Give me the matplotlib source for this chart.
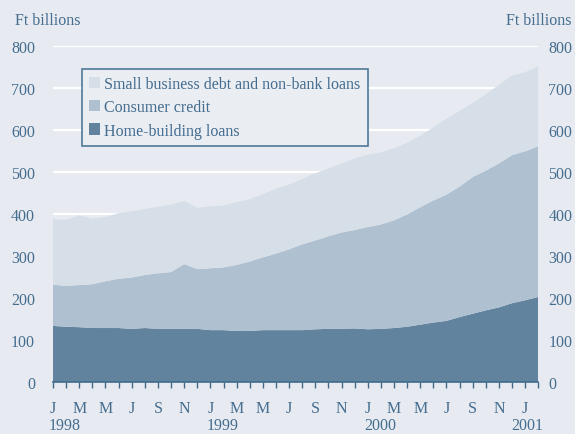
import numpy as np
import matplotlib.pyplot as plt
import matplotlib.transforms as mtransforms
from matplotlib.patches import Patch

plt.rcParams['font.family'] = ['Liberation Serif', 'DejaVu Serif']

# monthly, Jan 1998 .. Feb 2001 (Ft billions)
home_building = [134, 132, 131, 129, 129, 129, 127, 129, 127, 127, 127, 127,
                 124, 124, 122, 122, 124, 124, 124, 124, 126, 127, 127, 128,
                 126, 127, 129, 132, 137, 142, 146, 155, 163, 171, 178, 188,
                 195, 203]
consumer_credit = [98, 97, 100, 104, 111, 117, 122, 126, 132, 135, 154, 142,
                   147, 149, 157, 165, 173, 182, 192, 204, 211, 220, 229, 234,
                   243, 248, 256, 267, 279, 290, 300, 310, 325, 332, 342, 352,
                   354, 358]
small_business = [156, 157, 166, 156, 153, 156, 157, 157, 158, 160, 150, 146,
                  147, 147, 149, 148, 150, 154, 154, 155, 160, 161, 164, 170,
                  172, 171, 171, 170, 170, 174, 180, 180, 176, 182, 187, 189,
                  188, 190]
month_labels = ['J', 'M', 'M', 'J', 'S', 'N'] * 3 + ['J']
years = ['1998', '1999', '2000', '2001']
series_names = ['Small business debt and non-bank loans', 'Consumer credit', 'Home-building loans']

bg = '#e7eaf0'
txt = '#446d8f'
c_small, c_cons, c_home = '#d6dfe8', '#afc0d0', '#62839e'

x = np.arange(len(home_building))

fig = plt.figure(figsize=(5.75, 4.35), dpi=100, facecolor=bg)
ax = fig.add_axes([53 / 575, 1 - 383.3 / 435, 485.3 / 575, 336.6 / 435])
ax.set_facecolor(bg)

ax.stackplot(x, home_building, consumer_credit, small_business,
             colors=[c_home, c_cons, c_small], linewidth=0)

ax.set_xlim(0, len(x) - 1)
ax.set_ylim(0, 800)
ax.set_yticks(range(0, 801, 100))
ax.grid(axis='y', color='white', linewidth=1.6)
ax.set_axisbelow(True)

for side in ['left', 'right', 'top']:
    ax.spines[side].set_visible(False)
ax.spines['bottom'].set_color('#3f6a8c')
ax.spines['bottom'].set_linewidth(1.2)

# a tick every month, a letter every second month
ax.set_xticks(x[::2])
ax.set_xticklabels(month_labels)
ax.set_xticks(x[1::2], minor=True)
ax.tick_params(axis='x', which='both', direction='out', length=4, width=1,
               color='#3f6a8c', labelcolor=txt, labelsize=11.5, pad=9)

ax.tick_params(axis='y', length=0, labelcolor=txt, labelsize=11.5, pad=13,
               labelright=True)
# right-hand labels sit closer to the plot than the left ones
shift = mtransforms.ScaledTranslation(-8 / 100, 0, fig.dpi_scale_trans)
for t in ax.yaxis.get_major_ticks():
    t.label2.set_transform(t.label2.get_transform() + shift)

# year labels under the January ticks
trans = mtransforms.blended_transform_factory(ax.transData, ax.transAxes)
for i, yr in enumerate(years[:-1]):
    ax.text(12 * i - 0.3, -0.128, yr, transform=trans, ha='left', va='center',
            color=txt, fontsize=11.5)
ax.text(len(x) - 1 + 0.35, -0.128, years[-1], transform=trans, ha='right', va='center',
        color=txt, fontsize=11.5)

fig.text(15 / 575, 1 - 21 / 435, 'Ft billions', ha='left', va='center', color=txt, fontsize=11.5)
fig.text(571 / 575, 1 - 21 / 435, 'Ft billions', ha='right', va='center', color=txt, fontsize=11.5)

handles = [Patch(facecolor=c_small), Patch(facecolor=c_cons), Patch(facecolor=c_home)]
leg = fig.legend(handles, series_names, loc='upper left',
                 bbox_to_anchor=(82 / 575, 1 - 70 / 435), bbox_transform=fig.transFigure,
                 fontsize=11.5, frameon=True, fancybox=False, borderaxespad=0,
                 handlelength=0.7, handleheight=0.7, handletextpad=0.25,
                 labelspacing=0.45, borderpad=0.45)
leg.get_frame().set_edgecolor('#4f7898')
leg.get_frame().set_facecolor('#eaedf2')
leg.get_frame().set_linewidth(1.2)
leg.get_frame().set_alpha(1)
for t in leg.get_texts():
    t.set_color(txt)

fig.savefig('out.png', dpi=100, facecolor=bg)
